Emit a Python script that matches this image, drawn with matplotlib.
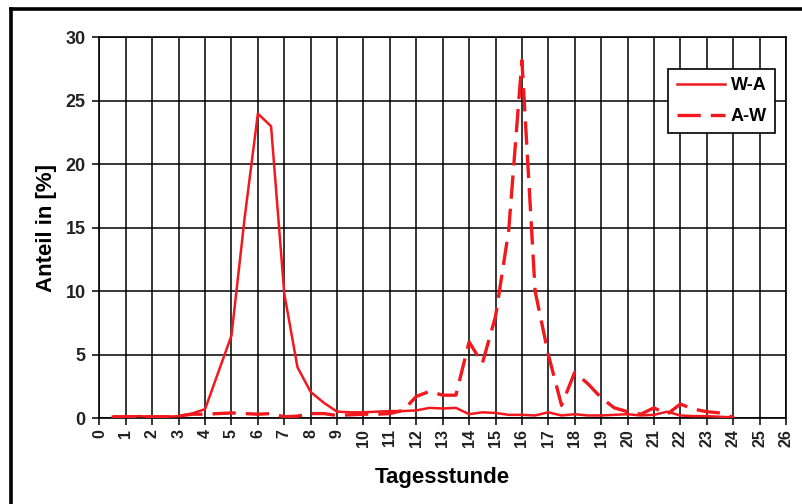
import numpy as np
import matplotlib
matplotlib.use("Agg")
import matplotlib.pyplot as plt
from matplotlib.lines import Line2D

plt.rcParams['font.family'] = ['Liberation Sans', 'DejaVu Sans']
plt.rcParams['font.weight'] = 'bold'

# ------------------------------------------------------------
# data (half-hour steps, 0.5 ... 24 h)
# ------------------------------------------------------------
hours = np.arange(0.5, 24.01, 0.5)

w_a = [0.1, 0.1, 0.15, 0.1, 0.1, 0.15, 0.35, 0.7, 3.6, 6.5,
       15.8, 24.0, 23.0, 9.8, 4.0, 2.05, 1.2, 0.5, 0.45, 0.45,
       0.5, 0.55, 0.55, 0.6, 0.8, 0.75, 0.8, 0.3, 0.45, 0.4,
       0.25, 0.25, 0.2, 0.45, 0.2, 0.3, 0.2, 0.2, 0.25, 0.3,
       0.2, 0.25, 0.5, 0.2, 0.15, 0.15, 0.1, 0.05]

a_w = [0.1, 0.1, 0.1, 0.1, 0.1, 0.15, 0.3, 0.3, 0.35, 0.4,
       0.35, 0.3, 0.35, 0.1, 0.15, 0.35, 0.35, 0.2, 0.25, 0.3,
       0.3, 0.35, 0.6, 1.7, 2.1, 1.8, 1.8, 6.0, 4.3, 8.0,
       14.8, 28.2, 10.0, 5.0, 1.0, 3.6, 2.7, 1.6, 0.8, 0.5,
       0.3, 0.8, 0.3, 1.1, 0.7, 0.5, 0.4, 0.05]

x_ticks = np.arange(0, 27, 1)
y_ticks = np.arange(0, 31, 5)

red = '#f2191e'

# ------------------------------------------------------------
# plot
# ------------------------------------------------------------
fig = plt.figure(figsize=(8.02, 5.04), dpi=100)
ax = fig.add_axes([0.124, 0.1706, 0.856, 0.755])

ax.plot(hours, w_a, color=red, linewidth=1.8, label='W-A', zorder=3)
ax.plot(hours, a_w, color=red, linewidth=2.4, dashes=(7, 3),
        label='A-W', zorder=3)

ax.set_xlim(0, 26)
ax.set_ylim(0, 30)
ax.set_xticks(x_ticks)
ax.set_yticks(y_ticks)
ax.set_xticklabels([str(t) for t in x_ticks], rotation=90, fontsize=11.5,
                   fontweight='bold', color='#222222')
ax.set_yticklabels([str(t) for t in y_ticks], fontsize=13,
                   fontweight='bold', color='#222222')
ax.tick_params(axis='both', direction='out', length=5, width=1.1,
               color='black', pad=3)
ax.tick_params(axis='y', pad=5)

ax.grid(True, color='black', linewidth=1.1)
ax.set_axisbelow(True)
for s in ax.spines.values():
    s.set_color('black')
    s.set_linewidth(1.2)

ax.set_xlabel('Tagesstunde', fontsize=16, fontweight='bold', labelpad=14)
ax.set_ylabel('Anteil in [%]', fontsize=16, fontweight='bold', labelpad=6)

leg = ax.legend(loc='upper right', bbox_to_anchor=(0.984, 0.9164),
                borderaxespad=0, fancybox=False, framealpha=1,
                edgecolor='black', handlelength=2.7, handletextpad=0.3,
                labelspacing=0.75, borderpad=0.45,
                prop={'size': 13, 'weight': 'bold'})
leg.get_frame().set_linewidth(1.2)

# outer frame (left and top edges of the original picture)
fig.add_artist(Line2D([11 / 802, 11 / 802], [0, 1 - 9 / 504],
                      transform=fig.transFigure, color='black', linewidth=2.6))
fig.add_artist(Line2D([11 / 802, 1], [1 - 9 / 504, 1 - 9 / 504],
                      transform=fig.transFigure, color='black', linewidth=2.6))

fig.savefig('out.png', dpi=100)
